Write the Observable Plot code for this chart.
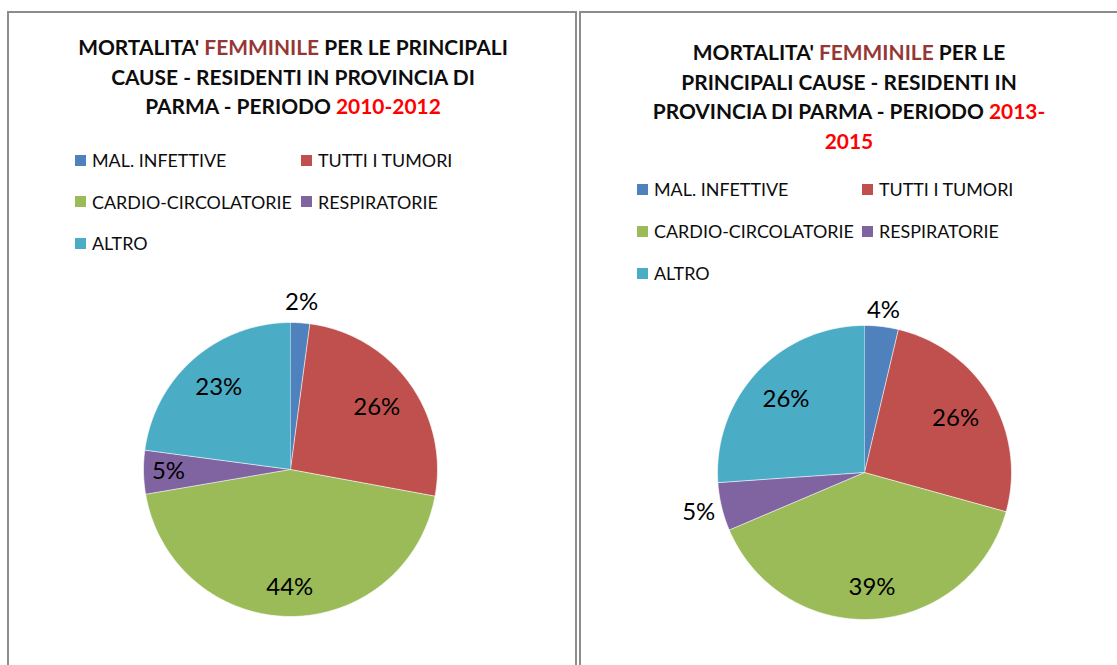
<!DOCTYPE html>
<html>
<head>
<meta charset="utf-8">
<script src="https://cdn.jsdelivr.net/npm/d3@7"></script>
<script src="https://cdn.jsdelivr.net/npm/@observablehq/plot@0.6"></script>
<style>
  html, body { margin: 0; padding: 0; background: #fff; }
  body { width: 1117px; height: 665px; overflow: hidden; position: relative; font-family: Lato, "Open Sans", sans-serif; }
  .panel { position: absolute; box-sizing: border-box; border: 2px solid #8c8c8c; border-bottom: none; background: #fff; }
  .title { position: absolute; text-align: center; font-weight: bold; color: #0d0d0d; white-space: nowrap; }
  .title .accent { color: #953735; }
  .title .year { color: #ff0000; }
  .leg { position: absolute; display: flex; align-items: center; white-space: nowrap; color: #0d0d0d; }
  .leg .sw { width: 11px; height: 11px; margin-right: 6px; flex: none; }
  .pie { position: absolute; }
</style>
</head>
<body>
<script>
// ---------- data ----------
const categories = ["MAL. INFETTIVE", "TUTTI I TUMORI", "CARDIO-CIRCOLATORIE", "RESPIRATORIE", "ALTRO"];
const colors = ["#4F81BD", "#C0504D", "#9BBB59", "#8064A2", "#4BACC6"];
const values2010_2012 = [2.1, 25.8, 44.4, 4.8, 22.9];
const values2013_2015 = [3.7, 25.6, 39.3, 5.3, 26.1];
const titleLines2010_2012 = [
  [["MORTALITA' ", ""], ["FEMMINILE", "accent"], [" PER LE PRINCIPALI", ""]],
  [["CAUSE - RESIDENTI IN PROVINCIA DI", ""]],
  [["PARMA - PERIODO ", ""], ["2010-2012", "year"]]
];
const titleLines2013_2015 = [
  [["MORTALITA' ", ""], ["FEMMINILE", "accent"], [" PER LE", ""]],
  [["PRINCIPALI CAUSE - RESIDENTI IN", ""]],
  [["PROVINCIA DI PARMA - PERIODO ", ""], ["2013-", "year"]],
  [["2015", "year"]]
];

// ---------- layout (styles / positions) ----------
const FONT = "Lato, 'Open Sans', sans-serif";
const panels = [
  { values: values2010_2012, title: titleLines2010_2012,
    box: { left: 7, top: 11, width: 570, height: 700 },
    titleCX: 293, titleTop: 32, titleLH: 29.7,
    legX: 75, legY: 160, legColDX: 226, legRowDY: 41.5,
    cx: 289.5, cy: 469, r: 147,
    labelR: [1.14, 0.725, 0.80, 0.83, 0.74] },
  { values: values2013_2015, title: titleLines2013_2015,
    box: { left: 579, top: 11, width: 600, height: 700 },
    titleCX: 849, titleTop: 37, titleLH: 29.5,
    legX: 637, legY: 189, legColDX: 225, legRowDY: 42,
    cx: 863.5, cy: 472, r: 147,
    labelR: [1.11, 0.72, 0.78, 1.16, 0.73] }
];

function fitSize(text, weight, target) {
  const ctx = document.createElement("canvas").getContext("2d");
  ctx.font = `${weight} 100px ${FONT}`;
  return 100 * target / ctx.measureText(text).width;
}
const titleSize = fitSize("MORTALITA' FEMMINILE PER LE PRINCIPALI", "bold", 430);
const legendSize = fitSize("CARDIO-CIRCOLATORIE", "normal", 200);
const labelSize = fitSize("26%", "normal", 47);

const color = d3.scaleOrdinal(categories, colors);

for (const p of panels) {
  const panel = document.createElement("div");
  panel.className = "panel";
  Object.assign(panel.style, { left: p.box.left + "px", top: p.box.top + "px", width: p.box.width + "px", height: p.box.height + "px" });
  document.body.appendChild(panel);

  // title
  const t = document.createElement("div");
  t.className = "title";
  t.style.fontSize = titleSize + "px";
  t.style.lineHeight = p.titleLH + "px";
  t.style.top = p.titleTop + "px";
  t.style.left = (p.titleCX - 300) + "px";
  t.style.width = "600px";
  t.innerHTML = p.title.map(line => line.map(([s, c]) => `<span class="${c}">${s.replace(/ /g, "&nbsp;")}</span>`).join("")).join("<br>");
  document.body.appendChild(t);

  // legend
  categories.forEach((cat, i) => {
    const col = i % 2, row = Math.floor(i / 2);
    const d = document.createElement("div");
    d.className = "leg";
    d.style.left = (p.legX + col * p.legColDX) + "px";
    d.style.top = (p.legY + row * p.legRowDY - 12) + "px";
    d.style.height = "24px";
    d.style.fontSize = legendSize + "px";
    d.innerHTML = `<span class="sw" style="background:${color(cat)}"></span><span>${cat}</span>`;
    document.body.appendChild(d);
  });

  // pie
  const rows = categories.map((cat, i) => ({ cat, value: p.values[i] }));
  const total = d3.sum(rows, d => d.value);
  const arcs = d3.pie().sort(null).value(d => d.value)(rows);
  const pts = [];
  for (const a of arcs) {
    const n = Math.max(2, Math.ceil((a.endAngle - a.startAngle) / (2 * Math.PI) * 360));
    pts.push({ cat: a.data.cat, x: 0, y: 0 });
    for (let k = 0; k <= n; k++) {
      const ang = a.startAngle + (a.endAngle - a.startAngle) * k / n;
      pts.push({ cat: a.data.cat, x: Math.sin(ang), y: Math.cos(ang) });
    }
  }
  const labels = arcs.map((a, i) => {
    const mid = (a.startAngle + a.endAngle) / 2;
    return { x: p.labelR[i] * Math.sin(mid), y: p.labelR[i] * Math.cos(mid), text: d3.format(".0%")(a.data.value / total) };
  });

  const W = 460, H = 420;
  const svg = Plot.plot({
    width: W, height: H, margin: 0,
    style: { fontFamily: FONT, background: "transparent", overflow: "visible" },
    x: { domain: [-W / 2 / p.r, W / 2 / p.r], axis: null },
    y: { domain: [-H / 2 / p.r, H / 2 / p.r], axis: null },
    color: { domain: categories, range: colors },
    marks: [
      Plot.line(pts, { x: "x", y: "y", z: "cat", fill: "cat", stroke: "#ffffff", strokeWidth: 0.8, strokeOpacity: 0.8 }),
      Plot.text(labels, { x: "x", y: "y", text: "text", fontSize: labelSize, fill: "#000000" })
    ]
  });
  svg.classList.add("pie");
  svg.style.left = (p.cx - W / 2) + "px";
  svg.style.top = (p.cy - H / 2) + "px";
  document.body.appendChild(svg);
}
</script>
</body>
</html>
